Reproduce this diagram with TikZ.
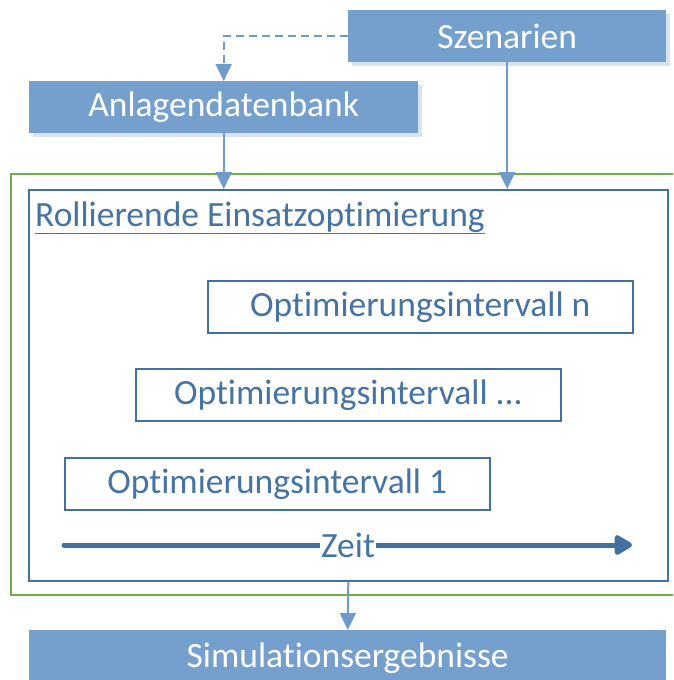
\documentclass[tikz,border=0pt]{standalone}
\usepackage{fontspec}
\setmainfont{Carlito}[Ligatures=NoCommon]
\usetikzlibrary{arrows.meta}
\definecolor{boxfill}{HTML}{75A0CD}
\definecolor{boxshade}{HTML}{D9E2EF}
\definecolor{darkblue}{HTML}{41719C}
\definecolor{textblue}{HTML}{4573A3}
\definecolor{linkblue}{HTML}{6F9BCB}
\definecolor{framegreen}{HTML}{70AD47}
\tikzset{
  bigtext/.style={font=\fontsize{35.5}{42}\selectfont},
  filledbox/.style={fill=boxfill, draw=none, text=white, inner sep=0pt, bigtext},
  intervalbox/.style={draw=darkblue, line width=1.6pt, fill=white, text=textblue,
    inner sep=0pt, minimum width=425pt, minimum height=52pt, bigtext},
  conn/.style={draw=linkblue, line width=2pt,
    -{Triangle[width=16pt,length=17pt]}},
  dashconn/.style={conn, dash pattern=on 8pt off 5pt},
}
\begin{document}
\begin{tikzpicture}[x=1pt,y=-1pt]
  \useasboundingbox (0,0) rectangle (673,680);
  \clip (0,0) rectangle (673,680);
  \fill[white] (0,0) rectangle (673,680);

  % surrounding green frame (runs off the right edge)
  \node[draw=framegreen, line width=1.5pt, minimum width=680pt, minimum height=421pt,
    inner sep=0pt, anchor=north west] (frame) at (10,173) {};

  % rolling optimisation block
  \node[draw=darkblue, line width=1.6pt, minimum width=639pt, minimum height=391pt,
    inner sep=0pt, anchor=north west] (roll) at (28,189) {};
  \node[anchor=base west, text=textblue, inner sep=0pt, bigtext] (title) at (35,226)
    {\underline{Rollierende Einsatzoptimierung}};

  % input and output boxes with soft shadow
  \fill[boxshade] (352,14) rectangle (670,66);
  \node[filledbox, minimum width=318pt, minimum height=52pt, anchor=north west]
    (szen) at (348,10) {Szenarien};
  \fill[boxshade] (33,85) rectangle (422,137);
  \node[filledbox, minimum width=389pt, minimum height=52pt, anchor=north west]
    (anl) at (29,81) {Anlagendatenbank};
  \node[filledbox, minimum width=637pt, minimum height=56pt, anchor=north west]
    (sim) at (29,630) {Simulationsergebnisse};

  % optimisation intervals
  \node[intervalbox, anchor=north west] (intn) at (207,280) {Optimierungsintervall n};
  \node[intervalbox, anchor=north west] (intd) at (135,368) {Optimierungsintervall ...};
  \node[intervalbox, anchor=north west] (int1) at (64,457) {Optimierungsintervall 1};

  % time axis
  \coordinate (tstart) at (64,545);
  \coordinate (tend) at (632,545);
  \draw[darkblue, line width=5pt, line cap=round,
    -{Triangle[width=22pt,length=20pt,round=false]}] (tstart) -- (tend);
  \node[fill=white, text=textblue, inner sep=1pt, bigtext] (zeit) at (348,545) {Zeit};

  % connectors
  \draw[dashconn] (szen.west) -| (anl.north);
  \draw[conn] (szen.south) -- (szen.south |- roll.north);
  \draw[conn] (anl.south) -- (anl.south |- roll.north);
  \draw[conn] (roll.south) -- (sim.north);
\end{tikzpicture}
\end{document}
